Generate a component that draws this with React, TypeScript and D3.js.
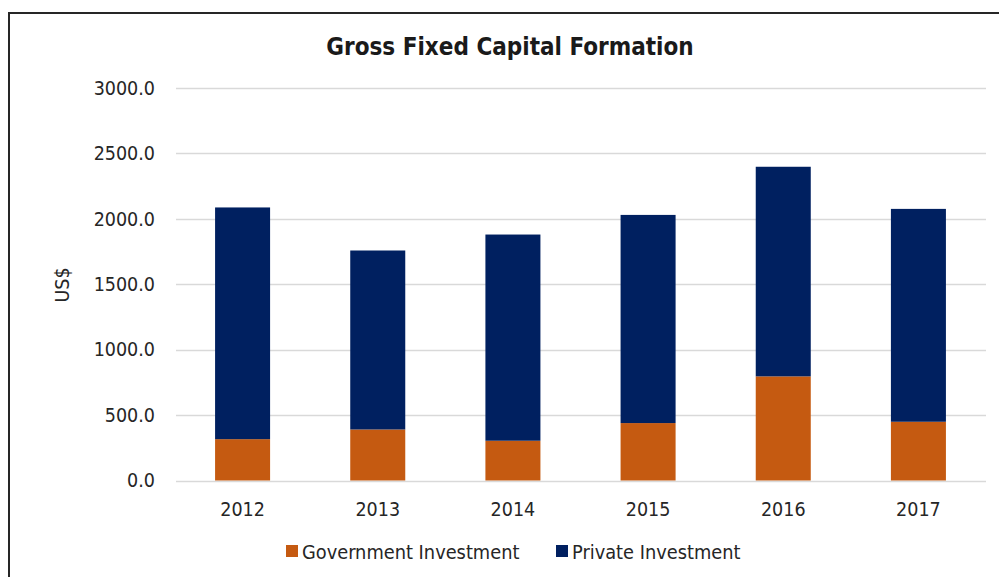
import React from "react";
import * as d3 from "d3";

const years = ["2012", "2013", "2014", "2015", "2016", "2017"];
const government = [316, 390, 304, 439, 796, 449];
const privateInv = [1771, 1368, 1576, 1591, 1602, 1627];
const yTicks = [0, 500, 1000, 1500, 2000, 2500, 3000];
const seriesNames = ["Government Investment", "Private Investment"];
const seriesColors = ["#C55A11", "#002060"];

const W = 999;
const H = 577;
const FONT = "'DejaVu Sans Condensed', 'DejaVu Sans', sans-serif";

export default function App() {
  const x = d3.scaleBand<string>().domain(years).range([175, 986]).paddingInner(0.593).paddingOuter(0.2965);
  const y = d3.scaleLinear().domain([0, 3000]).range([480.5, 88]);

  const rows = years.map((yr, i) => ({ year: yr, gov: government[i], priv: privateInv[i] }));
  const stack = d3.stack<any>().keys(["gov", "priv"]);
  const layers = stack(rows);

  return (
    <svg width={W} height={H} style={{ position: "absolute", left: 0, top: 0, background: "#fff" }} fontFamily={FONT}>
      <rect x={0} y={0} width={W} height={H} fill="#fff" />
      {/* frame */}
      <path d={`M9,${H} L9,13 L${W},13`} fill="none" stroke="#262626" strokeWidth={2} />
      {/* title */}
      <text x={510} y={55} textAnchor="middle" fontSize={24} fontWeight="bold" fill="#1a1a1a">
        Gross Fixed Capital Formation
      </text>
      {/* gridlines */}
      {yTicks.map((t) => (
        <line key={t} x1={176} x2={986} y1={Math.round(y(t)) + 0.5} y2={Math.round(y(t)) + 0.5} stroke="#d9d9d9" strokeWidth={1.5} />
      ))}
      {/* y tick labels */}
      {yTicks.map((t) => (
        <text key={"l" + t} x={155} y={y(t)} dy="0.35em" textAnchor="end" fontSize={19.5} fill="#262626">
          {d3.format(".1f")(t)}
        </text>
      ))}
      {/* y axis title */}
      <text transform={`translate(69,285) rotate(-90)`} textAnchor="middle" fontSize={19.5} fill="#262626">
        US$
      </text>
      {/* bars */}
      {layers.map((layer, li) => (
        <g key={li} fill={seriesColors[li]}>
          {layer.map((d: any, i: number) => (
            <rect key={i} x={x(years[i])} y={y(d[1])} width={x.bandwidth()} height={y(d[0]) - y(d[1])} />
          ))}
        </g>
      ))}
      {/* x labels */}
      {years.map((yr) => (
        <text key={yr} x={(x(yr) as number) + x.bandwidth() / 2} y={516} textAnchor="middle" fontSize={19.5} fill="#262626">
          {yr}
        </text>
      ))}
      {/* legend */}
      {seriesNames.map((n, i) => {
        const lx = i === 0 ? 286 : 556;
        return (
          <g key={n}>
            <rect x={lx} y={545} width={12} height={12} fill={seriesColors[i]} />
            <text x={lx + 16} y={558.5} fontSize={19.8} fill="#262626">
              {n}
            </text>
          </g>
        );
      })}
    </svg>
  );
}
